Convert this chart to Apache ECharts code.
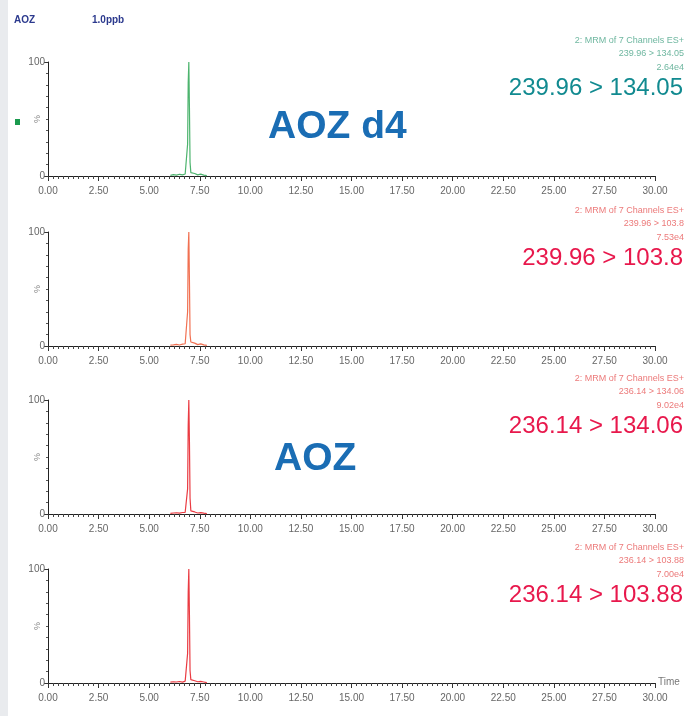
<!DOCTYPE html>
<html>
<head>
<meta charset="utf-8">
<script src="https://cdn.jsdelivr.net/npm/echarts@6/dist/echarts.min.js"></script>
<style>
  html, body { margin: 0; padding: 0; background: #ffffff; }
  #chart { width: 684px; height: 716px; }
</style>
</head>
<body>
<div id="chart"></div>
<script>
// Retention times (min) of the acquired window for each MRM trace
const times = [6.05, 6.20, 6.35, 6.50, 6.65, 6.78, 6.86, 6.90, 6.93, 6.96, 6.99, 7.02, 7.06, 7.12, 7.25, 7.40, 7.55, 7.70, 7.85];

// Relative intensities (%) per transition
const aozD4_134 = [0.6, 1.2, 0.8, 1.5, 1.0, 1.8, 3.0, 28, 82, 100, 60, 12, 3.0, 1.5, 2.2, 1.0, 1.6, 0.8, 0.4];
const aozD4_103 = [0.8, 1.0, 1.4, 0.9, 1.6, 2.0, 3.5, 30, 85, 100, 58, 10, 3.5, 2.0, 2.5, 1.2, 1.8, 1.0, 0.5];
const aoz_134   = [0.5, 0.9, 1.1, 0.7, 1.3, 1.5, 2.5, 22, 78, 100, 64, 14, 2.8, 1.4, 1.8, 0.9, 1.2, 0.7, 0.3];
const aoz_103   = [0.7, 1.1, 0.9, 1.3, 0.8, 1.6, 2.8, 26, 80, 100, 60, 11, 3.0, 1.6, 2.0, 1.1, 1.4, 0.9, 0.4];

const channels = [
  { values: aozD4_134, transition: '239.96 > 134.05', small: '239.96 > 134.05', scale: '2.64e4' },
  { values: aozD4_103, transition: '239.96 > 103.8',  small: '239.96 > 103.8',  scale: '7.53e4' },
  { values: aoz_134,   transition: '236.14 > 134.06', small: '236.14 > 134.06', scale: '9.02e4' },
  { values: aoz_103,   transition: '236.14 > 103.88', small: '236.14 > 103.88', scale: '7.00e4' }
];

const xTicks = { min: 0, max: 30, interval: 2.5 };
const yTicks = { min: 0, max: 100, interval: 100 };

// Layout and styling
const gridTops = [62, 232, 400, 569];
const gridHeight = 114;
const lineColors = ['#3aac5e', '#f0603e', '#e8262e', '#e8262e'];
const bigColors = ['#118a90', '#e8184c', '#e8184c', '#e8184c'];
const smallColors = ['#6fb7a0', '#ec7a7a', '#ec7a7a', '#ec7a7a'];
const tickFont = "'Liberation Sans Narrow', 'Liberation Sans', Arial, sans-serif";
const mainFont = "'Liberation Sans', Arial, sans-serif";

const grids = [], xAxes = [], yAxes = [], series = [], graphics = [];

channels.forEach((ch, i) => {
  grids.push({ left: 48, right: 29, top: gridTops[i], height: gridHeight });
  xAxes.push({
    type: 'value', gridIndex: i,
    min: xTicks.min, max: xTicks.max, interval: xTicks.interval,
    axisLine: { lineStyle: { color: '#222', width: 1 } },
    axisTick: { length: 5, lineStyle: { color: '#333' } },
    minorTick: { show: true, splitNumber: 10, length: 3, lineStyle: { color: '#444' } },
    splitLine: { show: false },
    axisLabel: {
      color: '#666', fontSize: 10, fontFamily: tickFont, margin: 10,
      formatter: v => v.toFixed(2)
    }
  });
  yAxes.push({
    type: 'value', gridIndex: i,
    min: yTicks.min, max: yTicks.max, interval: yTicks.interval,
    axisLine: { lineStyle: { color: '#222', width: 1 } },
    axisTick: { length: 4, lineStyle: { color: '#333' } },
    minorTick: { show: true, splitNumber: 10, length: 2, lineStyle: { color: '#555' } },
    splitLine: { show: false },
    axisLabel: {
      color: '#666', fontSize: 10, fontFamily: tickFont, margin: 3
    }
  });
  series.push({
    type: 'line', xAxisIndex: i, yAxisIndex: i,
    data: times.map((t, k) => [t, ch.values[k]]),
    showSymbol: false, smooth: false,
    lineStyle: { color: lineColors[i], width: 1.2, opacity: 0.9 },
    z: 3
  });

  const top = gridTops[i];
  // Instrument header lines, right aligned
  const smallLines = ['2: MRM of 7 Channels ES+', ch.small, ch.scale];
  smallLines.forEach((s, k) => {
    graphics.push({
      type: 'text', right: 0, top: top - 26 + k * 13.5,
      style: { text: s, fill: smallColors[i], font: "9px " + tickFont, textAlign: 'right' }
    });
  });
  // Transition label
  graphics.push({
    type: 'text', right: 1, top: top + 14,
    style: { text: ch.transition, fill: bigColors[i], font: "24px " + mainFont, textAlign: 'right' }
  });
  // Intensity axis title
  graphics.push({
    type: 'text', left: 33, top: top + gridHeight / 2 - 4, rotation: Math.PI / 2,
    style: { text: '%', fill: '#888', font: "9px " + tickFont }
  });
});

// Left margin strip
graphics.push({ type: 'rect', left: 0, top: 0, shape: { width: 8, height: 716 }, style: { fill: '#e9ebee' }, z: -1 });
// Sample header
graphics.push({ type: 'text', left: 14, top: 15, style: { text: 'AOZ', fill: '#2c3a8e', font: "bold 10px " + mainFont } });
graphics.push({ type: 'text', left: 92, top: 15, style: { text: '1.0ppb', fill: '#2c3a8e', font: "bold 10px " + mainFont } });
// Trace marker
graphics.push({ type: 'rect', left: 15, top: 119, shape: { width: 5, height: 6 }, style: { fill: '#1a9a4e' } });
// Compound labels
graphics.push({ type: 'text', left: 268, top: 108, style: { text: 'AOZ d4', fill: '#1a6db4', font: "bold 39px " + mainFont } });
graphics.push({ type: 'text', left: 274, top: 440, style: { text: 'AOZ', fill: '#1a6db4', font: "bold 39px " + mainFont } });
// Axis title on the last trace
graphics.push({ type: 'text', left: 658, top: 677, style: { text: 'Time', fill: '#777', font: "10px " + tickFont } });

const chart = echarts.init(document.getElementById('chart'), null, { renderer: 'canvas' });
chart.setOption({
  animation: false,
  backgroundColor: '#ffffff',
  grid: grids,
  xAxis: xAxes,
  yAxis: yAxes,
  series: series,
  graphic: graphics
});
</script>
</body>
</html>
